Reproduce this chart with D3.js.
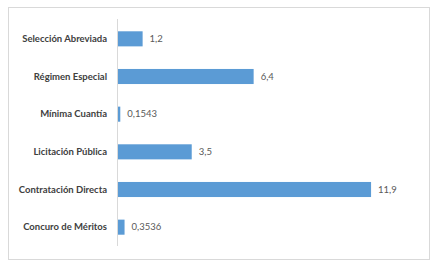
<!DOCTYPE html>
<html>
<head>
<meta charset="utf-8">
<script src="https://cdn.jsdelivr.net/npm/d3@7"></script>
<style>
	body { margin: 0; background: #fff; }
	text { font-family: Lato, "Open Sans", sans-serif; }
</style>
</head>
<body>
<div id="chart"></div>
<script>
const categories = [
	"Selección Abreviada",
	"Régimen Especial",
	"Mínima Cuantía",
	"Licitación Pública",
	"Contratación Directa",
	"Concuro de Méritos"
];
const values = [1.2, 6.4, 0.1543, 3.5, 11.9, 0.3536];
const valueLabels = ["1,2", "6,4", "0,1543", "3,5", "11,9", "0,3536"];

const width = 438;
const height = 267;
const margin = { top: 19, right: 60, bottom: 21, left: 117 };

const svg = d3.select("#chart").append("svg")
	.attr("width", width)
	.attr("height", height);

// Frame
svg.append("rect")
	.attr("x", 8.5)
	.attr("y", 7.5)
	.attr("width", 421)
	.attr("height", 252)
	.attr("fill", "#fff")
	.attr("stroke", "#d9d9d9");

const x = d3.scaleLinear()
	.domain([0, 1])
	.range([margin.left, margin.left + 21.35]);

const y = d3.scaleBand()
	.domain(categories)
	.range([20, height - margin.bottom])
	.paddingInner(0.6)
	.paddingOuter(0.3);

const data = categories.map((c, i) => ({ cat: c, value: values[i], label: valueLabels[i] }));

// Bars
svg.append("g")
	.selectAll("rect")
	.data(data)
	.join("rect")
	.attr("x", x(0))
	.attr("y", d => y(d.cat))
	.attr("width", d => x(d.value) - x(0))
	.attr("height", y.bandwidth())
	.attr("fill", "#5b9bd5");

// Y axis
const yAxis = svg.append("g")
	.attr("transform", `translate(${margin.left},0)`)
	.call(d3.axisLeft(y).tickSize(0).tickPadding(10));
yAxis.select(".domain")
	.attr("stroke", "#d9d9d9")
	.attr("d", `M0.5,${margin.top}V${height - margin.bottom}`);
yAxis.selectAll(".tick text")
	.attr("fill", "#404040")
	.attr("font-size", "9.5px")
	.attr("font-weight", "bold")
	.style("font-family", "Lato, sans-serif");

// Value labels
svg.append("g")
	.selectAll("text")
	.data(data)
	.join("text")
	.attr("x", d => x(d.value) + 7)
	.attr("y", d => y(d.cat) + y.bandwidth() / 2)
	.attr("dy", "0.35em")
	.attr("fill", "#595959")
	.attr("font-size", "9.5px")
	.text(d => d.label);
</script>
</body>
</html>
